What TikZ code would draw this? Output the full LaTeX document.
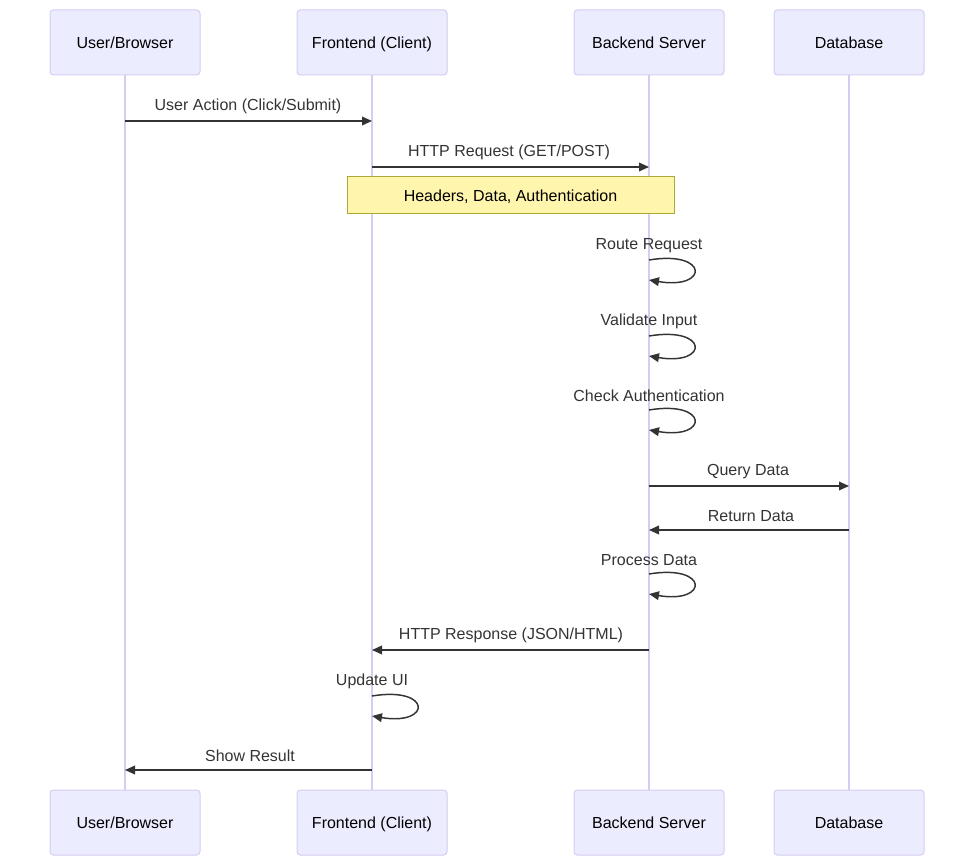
\documentclass[tikz,border=0pt]{standalone}
\usepackage{fontspec}
\setmainfont{Liberation Sans}
\definecolor{actorfill}{HTML}{ECECFF}
\definecolor{actorline}{HTML}{D6CCF2}
\definecolor{notefill}{HTML}{FFF5AD}
\definecolor{noteline}{HTML}{AAAA33}
\definecolor{msgdark}{HTML}{333333}
\usetikzlibrary{arrows.meta, positioning}

\tikzset{
  actorbox/.style={draw=actorline, fill=actorfill, line width=0.75pt, rounded corners=2.5pt,
    minimum width=112.5pt, minimum height=48.75pt, inner sep=0pt, text=black,
    text height=8.6pt, text depth=0pt, font=\fontsize{12}{14}\selectfont},
  lifeline/.style={draw=actorline, line width=1.1pt},
  notebox/.style={draw=noteline, fill=notefill, line width=0.75pt,
    minimum width=245.25pt, minimum height=27.75pt, inner sep=0pt, text=black,
    text height=8.6pt, text depth=0pt, font=\fontsize{12}{14}\selectfont},
  msg/.style={draw=msgdark, line width=1.1pt, -{Triangle[length=7.5pt, width=6.5pt]}},
  msglabel/.style={text=msgdark, inner sep=0pt, text height=8.6pt, text depth=0pt,
    font=\fontsize{12}{14}\selectfont}
}

\begin{document}
\begin{tikzpicture}[x=0.75pt, y=-0.75pt]
  \useasboundingbox (0,0) rectangle (974,866);

  % participants, top row
  \node[actorbox] (userTop)  at (125,42.5) {User/Browser};
  \node[actorbox] (frontTop) at (372,42.5) {Frontend (Client)};
  \node[actorbox] (backTop)  at (649,42.5) {Backend Server};
  \node[actorbox] (dbTop)    at (849,42.5) {Database};

  % participants, bottom row
  \node[actorbox] (userBot)  at (125,822.5) {User/Browser};
  \node[actorbox] (frontBot) at (372,822.5) {Frontend (Client)};
  \node[actorbox] (backBot)  at (649,822.5) {Backend Server};
  \node[actorbox] (dbBot)    at (849,822.5) {Database};

  % lifelines
  \draw[lifeline] (userTop) -- (userBot);
  \draw[lifeline] (frontTop) -- (frontBot);
  \draw[lifeline] (backTop) -- (backBot);
  \draw[lifeline] (dbTop) -- (dbBot);

  % request
  \node[msglabel] (lblAction) at (248,105) {User Action (Click/Submit)};
  \draw[msg] (userTop |- 0,121) -- (frontTop |- 0,121);
  \node[msglabel] (lblRequest) at (509,151) {HTTP Request (GET/POST)};
  \draw[msg] (frontTop |- 0,167) -- (backTop |- 0,167);
  \node[notebox] (hdrNote) at (510.5,195.5) {Headers, Data, Authentication};

  % backend processing
  \node[msglabel] (lblRoute) at (649,244) {Route Request};
  \draw[msg] (backTop |- 0,260) .. controls +(60,-10) and +(60,10) .. (backTop |- 0,280);
  \node[msglabel] (lblValidate) at (649,320) {Validate Input};
  \draw[msg] (backTop |- 0,336) .. controls +(60,-10) and +(60,10) .. (backTop |- 0,356);
  \node[msglabel] (lblAuth) at (649,396) {Check Authentication};
  \draw[msg] (backTop |- 0,410) .. controls +(60,-10) and +(60,10) .. (backTop |- 0,430);

  % database round trip
  \node[msglabel] (lblQuery) at (748,470) {Query Data};
  \draw[msg] (backTop |- 0,486) -- (dbTop |- 0,486);
  \node[msglabel] (lblReturn) at (751,516) {Return Data};
  \draw[msg] (dbTop |- 0,530) -- (backTop |- 0,530);
  \node[msglabel] (lblProcess) at (649,560) {Process Data};
  \draw[msg] (backTop |- 0,574) .. controls +(60,-10) and +(60,10) .. (backTop |- 0,594);

  % response
  \node[msglabel] (lblResponse) at (511,634) {HTTP Response (JSON/HTML)};
  \draw[msg] (backTop |- 0,650) -- (frontTop |- 0,650);
  \node[msglabel] (lblUpdate) at (372,680) {Update UI};
  \draw[msg] (frontTop |- 0,696) .. controls +(60,-10) and +(60,10) .. (frontTop |- 0,716);
  \node[msglabel] (lblShow) at (250,756) {Show Result};
  \draw[msg] (frontTop |- 0,770) -- (userTop |- 0,770);
\end{tikzpicture}
\end{document}
